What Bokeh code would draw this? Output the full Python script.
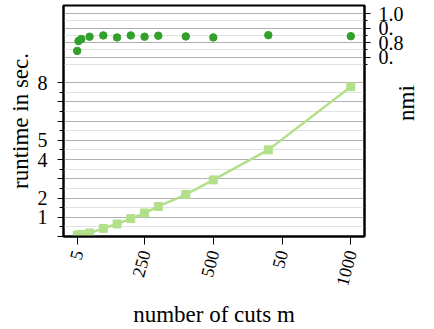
import math

from bokeh.embed import file_html
from bokeh.models import FixedTicker, Grid, LinearAxis, Range1d
from bokeh.plotting import figure
from bokeh.resources import INLINE

# number of cuts m and the measurements taken for each
cuts = [5, 10, 20, 50, 100, 150, 200, 250, 300, 400, 500, 700, 1000]
runtime = [0.06, 0.08, 0.10, 0.18, 0.42, 0.65, 0.93, 1.22, 1.56, 2.18, 2.94, 4.50, 7.78]
nmi = [0.743, 0.811, 0.825, 0.841, 0.850, 0.836, 0.850, 0.841, 0.848, 0.843, 0.836, 0.852, 0.845]

# axis ticks and their labels
x_ticks = [5, 250, 500, 750, 1000]
x_tick_labels = ["5", "250", "500", "50", "1000"]
runtime_ticks = [0, 1, 2, 3, 4, 5, 6, 7, 8]
runtime_tick_labels = ["", "1", "2", "", "4", "5", "", "", "8"]
runtime_minor = [0.5, 1.5, 2.5, 3.5, 4.5, 5.5, 6.5, 7.5]
nmi_ticks = [0.7, 0.8, 0.9, 1.0]
nmi_tick_labels = ["0.", "0.8", "0.", "1.0"]
nmi_minor = [0.65, 0.75, 0.85, 0.95]
nmi_title_at = 0.258  # middle of the nmi range, where its title sits

FONT = "Liberation Serif"
TICK_SIZE = "20px"
XTICK_SIZE = "18px"
LABEL_SIZE = "23px"
RUNTIME_COLOR = "#b2df8a"
NMI_COLOR = "#33a02c"

p = figure(
    width=434, height=329,
    x_range=Range1d(-44.75, 1049.75),
    y_range=Range1d(0, 12),
    output_backend="svg", toolbar_location=None,
    min_border_left=63, min_border_right=70,
    min_border_top=5, min_border_bottom=90,
)
p.extra_y_ranges = {"nmi": Range1d(-0.541, 1.057)}

p.background_fill_color = "white"
p.border_fill_color = "white"
p.outline_line_color = "black"
p.outline_line_width = 2

# runtime curve (left axis)
p.line(cuts, runtime, line_color=RUNTIME_COLOR, line_width=2.5)
p.scatter(cuts, runtime, marker="square", size=8, color=RUNTIME_COLOR)

# nmi scores (right axis)
p.scatter(cuts, nmi, marker="circle", size=7.5, color=NMI_COLOR, y_range_name="nmi")

# x axis
xa = p.xaxis[0]
xa.ticker = FixedTicker(ticks=x_ticks)
xa.major_label_overrides = dict(zip(x_ticks, x_tick_labels))
xa.major_label_orientation = math.radians(75)
xa.major_tick_out = 8
xa.major_tick_in = 0
xa.minor_tick_out = 0
xa.minor_tick_in = 0
xa.major_label_standoff = 6
xa.axis_label = "number of cuts m"
xa.axis_label_standoff = 10

# left axis
ya = p.yaxis[0]
ya.ticker = FixedTicker(ticks=runtime_ticks, minor_ticks=runtime_minor)
ya.major_label_overrides = dict(zip(runtime_ticks, runtime_tick_labels))
ya.axis_label = "runtime in sec."
ya.major_tick_out = 6
ya.major_tick_in = 0
ya.minor_tick_out = 4
ya.minor_tick_in = 0
ya.major_label_standoff = 10
ya.axis_label_standoff = 2

# right axis for nmi
na = LinearAxis(
    y_range_name="nmi",
    ticker=FixedTicker(ticks=nmi_ticks, minor_ticks=nmi_minor),
)
na.major_label_overrides = dict(zip(nmi_ticks, nmi_tick_labels))
na.major_tick_out = 6
na.major_tick_in = 0
na.minor_tick_out = 3
na.minor_tick_in = 0
na.major_label_standoff = 8
p.add_layout(na, "right")

for ax in (xa, ya, na):
    ax.axis_line_color = "black"
    ax.axis_line_width = 2
    ax.major_tick_line_color = "black"
    ax.minor_tick_line_color = "black"
    ax.major_label_text_font = FONT
    ax.major_label_text_font_size = TICK_SIZE
    ax.major_label_text_color = "black"
    ax.axis_label_text_font = FONT
    ax.axis_label_text_font_size = LABEL_SIZE
    ax.axis_label_text_font_style = "normal"
    ax.axis_label_text_color = "black"
xa.major_label_text_font_size = XTICK_SIZE

# "nmi" title, set upright-reading beside the nmi tick labels
nt = LinearAxis(
    y_range_name="nmi",
    ticker=FixedTicker(ticks=[nmi_title_at], minor_ticks=[]),
    major_label_overrides={nmi_title_at: "nmi"},
    major_label_orientation=math.pi / 2,
    major_label_standoff=0,
    major_tick_in=0, major_tick_out=0,
    minor_tick_in=0, minor_tick_out=0,
    axis_line_color=None,
    major_tick_line_color=None,
    minor_tick_line_color=None,
    major_label_text_font=FONT,
    major_label_text_font_size=LABEL_SIZE,
    major_label_text_color="black",
)
p.add_layout(nt, "right")

# grids: integer/half steps on the runtime axis, 0.05 steps on the nmi axis
p.xgrid.grid_line_color = None
p.ygrid.grid_line_color = "#b0b0b0"
p.ygrid.grid_line_width = 1.2
p.ygrid.minor_grid_line_color = "#e2e2e2"
p.ygrid.minor_grid_line_width = 1.2

nmi_grid = Grid(dimension=1, axis=na, y_range_name="nmi",
                grid_line_color="#b0b0b0", grid_line_width=1.2,
                minor_grid_line_color="#e2e2e2", minor_grid_line_width=1.2)
p.add_layout(nmi_grid)

open("out.html", "w").write(file_html(p, INLINE))
